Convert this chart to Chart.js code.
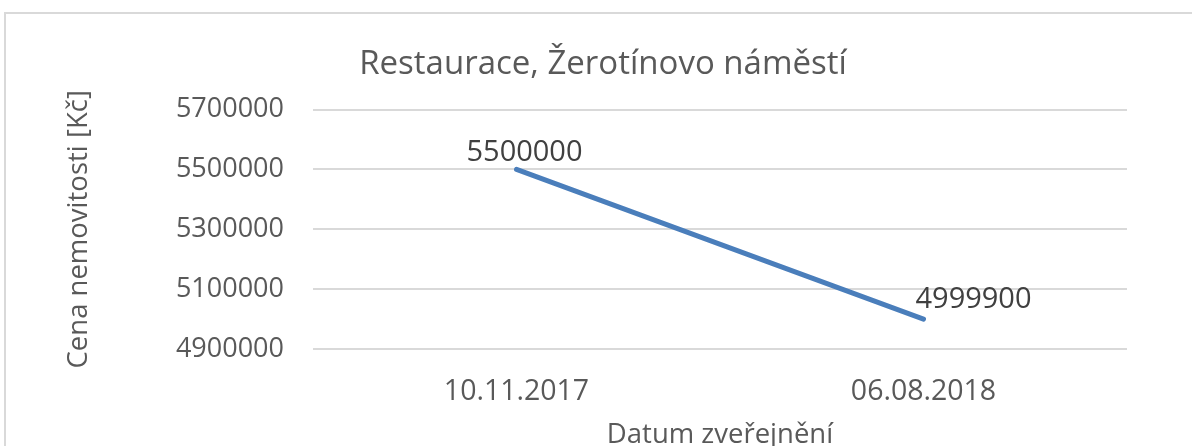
<!DOCTYPE html>
<html>
<head>
<meta charset="utf-8">
<script src="https://cdn.jsdelivr.net/npm/chart.js@4"></script>
<style>
  body { margin: 0; background: #fff; }
  #wrap { width: 1192px; height: 446px; position: relative; }
</style>
</head>
<body>
<div id="wrap"><canvas id="c"></canvas></div>
<script>
// data
const dates = ["10.11.2017", "06.08.2018"];
const prices = [5500000, 4999900];
const yTicks = [4900000, 5100000, 5300000, 5500000, 5700000];

const grey = "#595959";

// light frame round the chart, like the office export
const frame = {
  id: "frame",
  beforeDraw(chart) {
    const c = chart.ctx;
    c.save();
    c.strokeStyle = "#d9d9d9";
    c.lineWidth = 2;
    c.strokeRect(5, 13, 1300, 500);
    c.restore();
  }
};

// value labels next to each point
const valueLabels = {
  id: "valueLabels",
  afterDatasetsDraw(chart, args, opts) {
    const c = chart.ctx;
    const meta = chart.getDatasetMeta(0);
    c.save();
    c.font = "29px 'Open Sans'";
    c.fillStyle = "#404040";
    c.textAlign = "center";
    c.textBaseline = "middle";
    meta.data.forEach((pt, i) => {
      const off = opts.offsets[i];
      c.fillText(String(prices[i]), pt.x + off[0], pt.y + off[1]);
    });
    c.restore();
  }
};

new Chart(document.getElementById("c"), {
  type: "line",
  data: {
    labels: dates,
    datasets: [{
      data: prices,
      borderColor: "#4a7ebb",
      borderWidth: 5,
      borderCapStyle: "round",
      pointRadius: 0,
      tension: 0
    }]
  },
  options: {
    responsive: true,
    maintainAspectRatio: false,
    animation: false,
    layout: { padding: { left: 79, right: 65, top: 0, bottom: 0 } },
    plugins: {
      legend: { display: false },
      tooltip: { enabled: false },
      title: {
        display: true,
        text: "Restaurace, Žerotínovo náměstí",
        color: grey,
        font: { family: "Open Sans", size: 33, weight: "normal" },
        padding: { top: 45, bottom: 25 }
      },
      valueLabels: { offsets: [[8, -17], [50, -19]] }
    },
    scales: {
      x: {
        offset: true,
        grid: { display: false },
        border: { display: false },
        ticks: {
          color: grey,
          padding: 18,
          font: { family: "Open Sans", size: 28.5 }
        },
        title: {
          display: true,
          text: "Datum zveřejnění",
          color: grey,
          font: { family: "Open Sans", size: 27.5 },
          padding: { top: 0, bottom: -6 }
        },
        afterFit(s) { s.height = 97; }
      },
      y: {
        min: 4900000,
        max: 5700000,
        afterBuildTicks(s) { s.ticks = yTicks.map(v => ({ value: v })); },
        grid: { color: "#d9d9d9", lineWidth: 2, drawTicks: false },
        border: { display: false },
        ticks: {
          color: grey,
          padding: 29,
          font: { family: "Open Sans", size: 27 },
          callback: v => String(v)
        },
        title: {
          display: true,
          text: "Cena nemovitosti [Kč]",
          color: grey,
          font: { family: "Open Sans", size: 27.5 },
          padding: { top: -16, bottom: 0 }
        },
        afterFit(s) { s.width = 234; }
      }
    }
  },
  plugins: [frame, valueLabels]
});
</script>
</body>
</html>
